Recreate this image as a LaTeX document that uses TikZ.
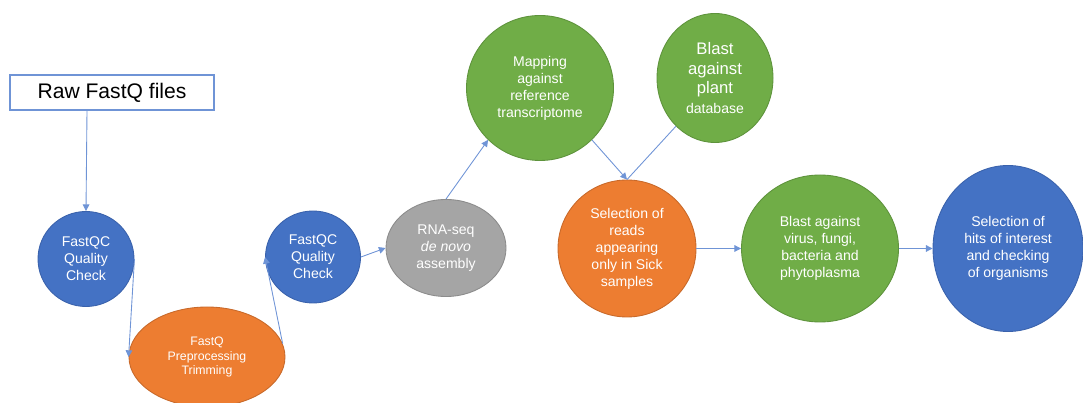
\documentclass[tikz,border=0pt]{standalone}
\usepackage{fontspec}
\setmainfont{Liberation Sans}
\usetikzlibrary{shapes.geometric,arrows.meta}
\definecolor{stepblue}{HTML}{4472C4}
\definecolor{stepblueline}{HTML}{3A62AC}
\definecolor{steporange}{HTML}{ED7D31}
\definecolor{steporangeline}{HTML}{C8692A}
\definecolor{stepgreen}{HTML}{70AD47}
\definecolor{stepgreenline}{HTML}{5E933C}
\definecolor{stepgray}{HTML}{A5A5A5}
\definecolor{stepgrayline}{HTML}{8C8C8C}
\definecolor{linkblue}{HTML}{6F94D6}
\tikzset{
  blob/.style={ellipse, inner sep=0pt, align=center, text=white,
    line width=0.5pt, font=\fontsize{8}{9.7}\selectfont},
  blueblob/.style={blob, fill=stepblue, draw=stepblueline},
  orangeblob/.style={blob, fill=steporange, draw=steporangeline},
  greenblob/.style={blob, fill=stepgreen, draw=stepgreenline},
  grayblob/.style={blob, fill=stepgray, draw=stepgrayline},
  plainlink/.style={draw=linkblue, line width=0.5pt},
  link/.style={plainlink, -{Triangle[width=3.8pt,length=3.8pt]}}
}
\begin{document}
\begin{tikzpicture}
\useasboundingbox (0,0) rectangle (21.66,8.06);

% Input files
\node [draw=linkblue, fill=white, line width=0.7pt, minimum width=4.08cm,
       minimum height=0.70cm, inner sep=0pt, font=\fontsize{12}{14}\selectfont]
      (raw) at (2.24,6.21) {Raw FastQ files};%

% First quality check
\node [blueblob, minimum width=1.92cm, minimum height=1.90cm]
      (qcone) at (1.72,2.88) {FastQC\\Quality\\Check};%

% Trimming
\node [orangeblob, minimum width=3.12cm, minimum height=2.00cm,
       font=\fontsize{7}{8.5}\selectfont]
      (trim) at (4.14,0.92) {FastQ\\Preprocessing\\Trimming};%

% Second quality check
\node [blueblob, minimum width=1.90cm, minimum height=1.84cm]
      (qctwo) at (6.26,2.92) {FastQC\\Quality\\Check};%

% Assembly
\node [grayblob, minimum width=2.40cm, minimum height=1.94cm]
      (rna) at (8.92,3.10) {RNA-seq\\\textit{de novo}\\assembly};%

% Mapping
\node [greenblob, minimum width=2.94cm, minimum height=2.90cm]
      (map) at (10.80,6.30) {Mapping\\against\\reference\\transcriptome};%

% Blast against plants
\node [greenblob, minimum width=2.32cm, minimum height=2.58cm,
       font=\fontsize{9.5}{11.3}\selectfont]
      (plant) at (14.30,6.50) {Blast\\against\\plant\\{\fontsize{8}{9.7}\selectfont database}};%

% Selection of reads
\node [orangeblob, minimum width=2.76cm, minimum height=2.74cm]
      (sel) at (12.54,3.09) {Selection of\\reads\\appearing\\only in Sick\\samples};%

% Blast against pathogens
\node [greenblob, minimum width=3.14cm, minimum height=2.94cm]
      (virus) at (16.40,3.09) {Blast against\\virus, fungi,\\bacteria and\\phytoplasma};%

% Selection of hits
\node [blueblob, minimum width=3.00cm, minimum height=3.32cm]
      (hits) at (20.16,3.09) {Selection of\\hits of interest\\and checking\\of organisms};%

% Connectors
\draw [link] ([xshift=-0.50cm]raw.south) -- (qcone.north);%
\draw [link] (qcone.east) -- (trim.west);%
\draw [link] (trim.10) -- (qctwo.west);%
\draw [link] (qctwo.east) -- (rna.west);%
\draw [link] (rna.north) -- (map.225);%
\draw [link] (map.-45) -- (sel.north);%
\draw [plainlink] (plant.231) -- (sel.north);%
\draw [link] (sel.east) -- (virus.west);%
\draw [link] (virus.east) -- (hits.west);%
\end{tikzpicture}
\end{document}
